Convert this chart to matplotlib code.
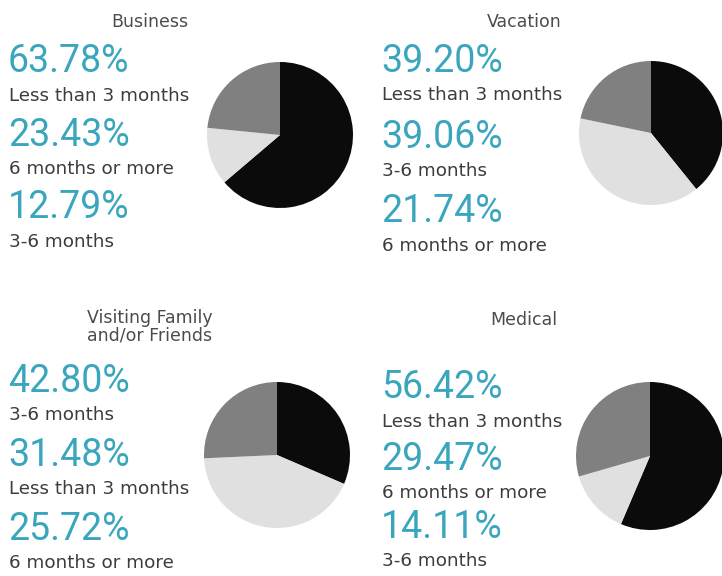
import numpy as np
import matplotlib
matplotlib.use("Agg")
import matplotlib.pyplot as plt

# data
categories = ["Business", "Vacation", "Visiting Family\nand/or Friends", "Medical"]
periods = ["Less than 3 months", "3-6 months", "6 months or more"]
less_3 = [63.78, 39.20, 31.48, 56.42]
months_3_6 = [12.79, 39.06, 42.80, 14.11]
months_6_plus = [23.43, 21.74, 25.72, 29.47]

slice_colors = ["#0b0b0b", "#e0e0e0", "#808080"]
num_color = "#3aa6bd"
label_color = "#3e3b40"
title_color = "#4c4c4c"

W, H = 722, 576
fig = plt.figure(figsize=(W / 100, H / 100), dpi=100)
fig.patch.set_facecolor("white")


def fx(x):
    return x / W


def fy(y):
    return 1 - y / H


# layout per panel (pixels): title pos, text left, number rows, pie center, radius
panels = [
    dict(title=(150, 22), left=8, rows=[62, 135, 208], pie=(280, 135), r=73),
    dict(title=(524, 22), left=381, rows=[61, 137, 212], pie=(651, 133), r=72),
    dict(title=(150, 327), left=8, rows=[381, 455, 529], pie=(277, 455), r=73),
    dict(title=(524, 320), left=381, rows=[388, 459, 527], pie=(650, 456), r=74),
]

for i, cat in enumerate(categories):
    p = panels[i]
    vals = [less_3[i], months_3_6[i], months_6_plus[i]]

    # title
    fig.text(fx(p["title"][0]), fy(p["title"][1]), cat, ha="center", va="center",
             multialignment="center", fontsize=12.5, color=title_color,
             family="DejaVu Sans", linespacing=1.0)

    # stats listed from largest to smallest
    order = np.argsort(vals)[::-1]
    for row, k in zip(p["rows"], order):
        fig.text(fx(p["left"]), fy(row), "%.2f%%" % vals[k], ha="left", va="center",
                 fontsize=27, color=num_color, family="Roboto")
        fig.text(fx(p["left"] + 1), fy(row + 34), periods[k], ha="left", va="center",
                 fontsize=13.2, color=label_color, family="DejaVu Sans")

    # pie
    cx, cy = p["pie"]
    r = p["r"]
    ax = fig.add_axes([fx(cx - r), fy(cy + r), 2 * r / W, 2 * r / H])
    ax.pie(vals, colors=slice_colors, startangle=90, counterclock=False,
           wedgeprops=dict(linewidth=0))
    ax.set_xlim(-1, 1)
    ax.set_ylim(-1, 1)
    ax.set_aspect("equal")
    ax.axis("off")

fig.savefig("out.png", dpi=100, facecolor="white")
